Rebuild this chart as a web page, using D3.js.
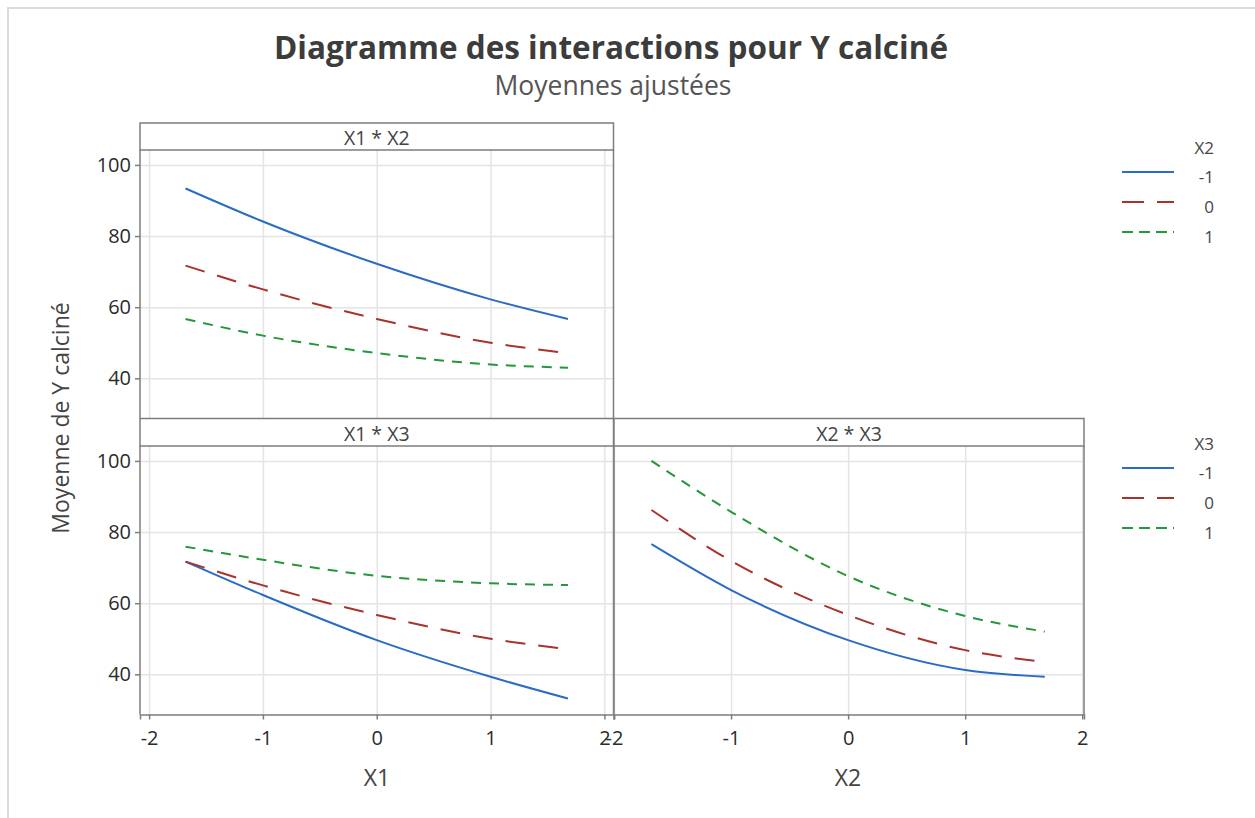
<!DOCTYPE html>
<html>
<head>
<meta charset="utf-8">
<script src="https://cdn.jsdelivr.net/npm/d3@7"></script>
<style>
  html, body { margin: 0; padding: 0; background: #fff; }
  svg { display: block; font-family: "Open Sans", "Noto Sans", sans-serif; }
</style>
</head>
<body>
<svg id="chart" width="1255" height="818"></svg>
<script>
// Factor levels at which the fitted means were evaluated
const levels = [-1.68, -1, 0, 1, 1.68];
const seriesLevels = ["-1", "0", "1"];
const xTicks = [-2, -1, 0, 1, 2];
const yTicks = [40, 60, 80, 100];

// Fitted means, X1 * X2 panel (one array per X2 level)
const x1x2Low  = [93.4, 84.1, 72.2, 62.2, 56.7];
const x1x2Mid  = [71.7, 65.0, 56.7, 50.0, 47.1];
const x1x2High = [56.7, 52.0, 47.1, 43.9, 43.0];

// Fitted means, X1 * X3 panel (one array per X3 level)
const x1x3Low  = [71.7, 62.3, 49.6, 39.3, 33.2];
const x1x3Mid  = [71.7, 65.0, 56.7, 50.0, 47.1];
const x1x3High = [75.9, 72.2, 67.7, 65.6, 65.1];

// Fitted means, X2 * X3 panel (one array per X3 level)
const x2x3Low  = [76.6, 63.7, 49.6, 41.2, 39.3];
const x2x3Mid  = [86.2, 71.9, 56.7, 46.8, 43.5];
const x2x3High = [100.0, 85.7, 67.6, 56.4, 52.0];

const svg = d3.select("#chart");

const styles = [
  { color: "#2a6cc4", dash: null },
  { color: "#a8322e", dash: "20,13" },
  { color: "#23983a", dash: "10,8" }
];

// Plain hyphen-minus tick labels
const fmt = d => String(d);

// Outer frame
svg.append("path")
  .attr("d", "M8,818 V8 H1255")
  .attr("fill", "none")
  .attr("stroke", "#dcdcdc")
  .attr("stroke-width", 2);

// Titles
svg.append("text")
  .attr("x", 611).attr("y", 59)
  .attr("text-anchor", "middle")
  .attr("font-size", 31.5).attr("font-weight", 700)
  .attr("fill", "#3c3c3c")
  .text("Diagramme des interactions pour Y calciné");
svg.append("text")
  .attr("x", 613).attr("y", 95)
  .attr("text-anchor", "middle")
  .attr("font-size", 26.5)
  .attr("fill", "#555")
  .text("Moyennes ajustées");

// Panel geometry
const yDomain = [28.7, 104.2];
const panels = [
  { title: "X1 * X2", x0: 140, x1: 613.5, hTop: 123, pTop: 150, pBot: 418.5,
    xDomain: [-2.08, 2.08], data: [x1x2Low, x1x2Mid, x1x2High], yAxis: true, xAxis: false },
  { title: "X1 * X3", x0: 140, x1: 613.5, hTop: 418.5, pTop: 446, pBot: 714.5,
    xDomain: [-2.08, 2.08], data: [x1x3Low, x1x3Mid, x1x3High], yAxis: true, xAxis: true },
  { title: "X2 * X3", x0: 614, x1: 1084, hTop: 418.5, pTop: 446, pBot: 714.5,
    xDomain: [-2.0, 2.015], data: [x2x3Low, x2x3Mid, x2x3High], yAxis: false, xAxis: true }
];

const borderColor = "#7d7d7d";
const gridColor = "#e4e4e4";

panels.forEach(p => {
  const x = d3.scaleLinear().domain(p.xDomain).range([p.x0, p.x1]);
  const y = d3.scaleLinear().domain(yDomain).range([p.pBot, p.pTop]);
  const g = svg.append("g");

  // Gridlines
  g.append("g")
    .attr("transform", `translate(0,${p.pBot})`)
    .call(d3.axisBottom(x).tickValues(xTicks).tickSize(-(p.pBot - p.pTop)).tickFormat(""))
    .call(s => s.select(".domain").remove())
    .call(s => s.selectAll("line").attr("stroke", gridColor).attr("stroke-width", 1.5));
  g.append("g")
    .attr("transform", `translate(${p.x0},0)`)
    .call(d3.axisLeft(y).tickValues(yTicks).tickSize(-(p.x1 - p.x0)).tickFormat(""))
    .call(s => s.select(".domain").remove())
    .call(s => s.selectAll("line").attr("stroke", gridColor).attr("stroke-width", 1.5));

  // Lines
  const line = d3.line()
    .x((d, i) => x(levels[i]))
    .y(d => y(d))
    .curve(d3.curveMonotoneX);
  p.data.forEach((vals, k) => {
    g.append("path")
      .datum(vals)
      .attr("d", line)
      .attr("fill", "none")
      .attr("stroke", styles[k].color)
      .attr("stroke-width", 2)
      .attr("stroke-dasharray", styles[k].dash);
  });

  // Header strip
  g.append("rect")
    .attr("x", p.x0).attr("y", p.hTop)
    .attr("width", p.x1 - p.x0).attr("height", p.pTop - p.hTop)
    .attr("fill", "#fff")
    .attr("stroke", borderColor).attr("stroke-width", 1.5);
  g.append("text")
    .attr("x", (p.x0 + p.x1) / 2).attr("y", p.pTop - 5)
    .attr("text-anchor", "middle")
    .attr("font-size", 19.5)
    .attr("fill", "#444")
    .text(p.title);

  // Panel side borders
  g.append("line")
    .attr("x1", p.x0).attr("x2", p.x0).attr("y1", p.pTop).attr("y2", p.pBot)
    .attr("stroke", borderColor).attr("stroke-width", 1.5);
  g.append("line")
    .attr("x1", p.x1).attr("x2", p.x1).attr("y1", p.pTop).attr("y2", p.pBot)
    .attr("stroke", borderColor).attr("stroke-width", 1.5);

  // Axes
  if (p.yAxis) {
    g.append("g")
      .attr("transform", `translate(${p.x0},0)`)
      .call(d3.axisLeft(y).tickValues(yTicks).tickSize(5).tickPadding(4).tickFormat(fmt))
      .call(s => s.select(".domain").remove())
      .call(s => s.selectAll("line").attr("stroke", borderColor).attr("stroke-width", 1.5))
      .call(s => s.selectAll("text").attr("font-size", 20).attr("fill", "#2b2b2b")
        .attr("font-family", "'Open Sans', sans-serif"));
  }
  if (p.xAxis) {
    g.append("g")
      .attr("transform", `translate(0,${p.pBot})`)
      .call(d3.axisBottom(x).tickValues(xTicks).tickSize(5).tickPadding(11).tickFormat(fmt))
      .call(s => s.select(".domain").attr("stroke", borderColor).attr("stroke-width", 1.5))
      .call(s => s.selectAll("line").attr("stroke", borderColor).attr("stroke-width", 1.5))
      .call(s => s.selectAll("text").attr("font-size", 20).attr("fill", "#2b2b2b")
        .attr("font-family", "'Open Sans', sans-serif"));
  }
});

// Axis titles
svg.append("text")
  .attr("x", 377).attr("y", 786)
  .attr("text-anchor", "middle")
  .attr("font-size", 23).attr("fill", "#444")
  .text("X1");
svg.append("text")
  .attr("x", 848).attr("y", 786)
  .attr("text-anchor", "middle")
  .attr("font-size", 23).attr("fill", "#444")
  .text("X2");
svg.append("text")
  .attr("transform", "translate(69,418) rotate(-90)")
  .attr("text-anchor", "middle")
  .attr("font-size", 23).attr("fill", "#444")
  .text("Moyenne de Y calciné");

// Legends
const legends = [
  { title: "X2", top: 147 },
  { title: "X3", top: 443 }
];
legends.forEach(L => {
  const g = svg.append("g");
  g.append("text")
    .attr("x", 1214).attr("y", L.top + 7)
    .attr("text-anchor", "end")
    .attr("font-size", 17).attr("fill", "#444")
    .text(L.title);
  seriesLevels.forEach((lab, k) => {
    const ly = L.top + 25 + k * 30;
    g.append("line")
      .attr("x1", 1122).attr("x2", 1174)
      .attr("y1", ly).attr("y2", ly)
      .attr("stroke", styles[k].color)
      .attr("stroke-width", 2)
      .attr("stroke-dasharray", styles[k].dash ? (k === 1 ? "22,13" : "11,6") : null);
    g.append("text")
      .attr("x", 1214).attr("y", ly + 11)
      .attr("text-anchor", "end")
      .attr("font-size", 17).attr("fill", "#444")
      .text(lab);
  });
});
</script>
</body>
</html>
